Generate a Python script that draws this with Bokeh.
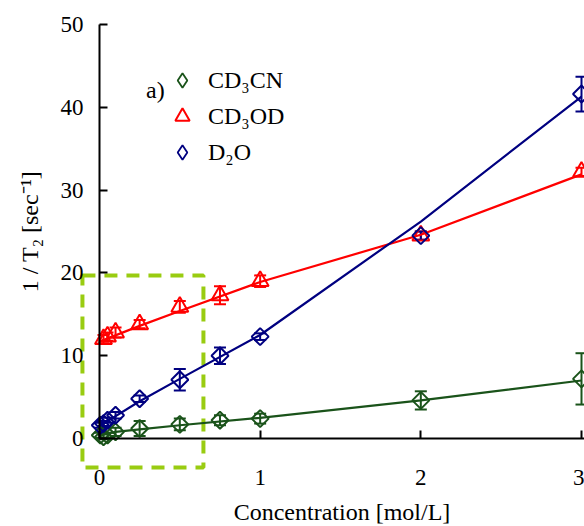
import math
from bokeh.plotting import figure
from bokeh.models import (Range1d, ColumnDataSource, Whisker, TeeHead, Legend,
                          LegendItem, Label, FixedTicker)
from bokeh.embed import file_html
from bokeh.resources import INLINE

# ---------------- data ----------------
cn_x = [0.005, 0.025, 0.05, 0.1, 0.25, 0.5, 0.75, 1, 2, 3]
cn_y = [0.4, 0.2, 0.4, 0.8, 1.2, 1.7, 2.2, 2.4, 4.6, 7.2]
cn_err = [0.3, 0.3, 0.3, 0.5, 0.9, 0.7, 0.6, 0.6, 1.1, 3.1]

od_x = [0.025, 0.05, 0.1, 0.25, 0.5, 0.75, 1, 2, 3]
od_y = [12.0, 12.3, 12.8, 13.8, 15.9, 17.3, 19.0, 24.5, 32.2]
od_err = [0.5, 0.5, 0.6, 0.5, 0.7, 1.1, 0.7, 0.5, 0.5]

d2o_x = [0.005, 0.025, 0.05, 0.1, 0.25, 0.5, 0.75, 1, 2, 3]
d2o_y = [1.6, 1.8, 2.2, 2.8, 4.8, 7.1, 10.0, 12.3, 24.5, 41.6]
d2o_err = [0.3, 0.3, 0.3, 0.4, 0.4, 1.3, 1.0, 0.4, 0.5, 2.1]

# fitted curves
cn_fit_x = [0, 0.05, 0.1, 0.25, 0.5, 1, 2, 3]
cn_fit_y = [0.3, 0.6, 0.8, 1.1, 1.6, 2.5, 4.6, 7.0]
od_fit_x = [0, 0.25, 0.5, 1, 2, 3]
od_fit_y = [11.7, 13.6, 15.4, 18.9, 24.6, 31.9]
d2o_fit_x = [0, 0.25, 0.5, 1, 2, 3]
d2o_fit_y = [1.5, 4.5, 7.2, 12.5, 26.2, 41.3]

# highlighted (zoomed) region
zoom_left, zoom_right, zoom_bottom, zoom_top = -0.106, 0.647, -3.5, 19.7

x_ticks = [0, 1, 2, 3]
y_ticks = [0, 10, 20, 30, 40, 50]

names = ["CD₃CN", "CD₃OD", "D₂O"]
GREEN, RED, BLUE, LIME = "#1a531a", "#ff0000", "#000080", "#99cc11"
FONT = "Liberation Serif"

p = figure(width=584, height=526, output_backend="svg", toolbar_location=None,
           x_range=Range1d(-0.616, 3.0187), y_range=Range1d(-10.63, 52.9),
           min_border_left=0, min_border_right=0, min_border_top=0,
           min_border_bottom=0)
p.outline_line_color = None
p.grid.visible = False
p.background_fill_color = "white"

# axes crossing at the origin
for ax, bnds, ticks in ((p.xaxis[0], (0, 3.0187), x_ticks), (p.yaxis[0], (0, 50), y_ticks)):
    ax.fixed_location = 0
    ax.bounds = bnds
    ax.ticker = FixedTicker(ticks=ticks)
    ax.minor_tick_line_color = None
    ax.major_tick_in = 8
    ax.major_tick_out = 0
    ax.axis_line_width = 2
    ax.major_tick_line_width = 2
    ax.axis_line_color = "black"
    ax.major_tick_line_color = "black"
    ax.major_label_text_font = FONT
    ax.major_label_text_font_size = "23px"
    ax.major_label_text_color = "black"
    ax.axis_label_text_font = FONT
    ax.axis_label_text_font_size = "24px"
    ax.axis_label_text_font_style = "normal"
    ax.axis_label_text_color = "black"

p.xaxis.axis_label = "Concentration [mol/L]"
p.xaxis.major_label_standoff = 32
p.xaxis.axis_label_standoff = 10
p.yaxis.axis_label = "1 / T₂ [sec⁻¹]"
p.yaxis.major_label_standoff = 16
p.yaxis.axis_label_standoff = 15

# dashed highlight box
p.quad(left=[zoom_left], right=[zoom_right], bottom=[zoom_bottom], top=[zoom_top],
       fill_color=None, line_color=LIME, line_width=4, line_dash="13 9")

def series(xs, ys, errs, fx, fy, color, marker, size):
    src = ColumnDataSource(dict(x=xs, y=ys,
                                upper=[a + b for a, b in zip(ys, errs)],
                                lower=[a - b for a, b in zip(ys, errs)]))
    p.line(fx, fy, line_color=color, line_width=2.2)
    w = Whisker(source=src, base="x", upper="upper", lower="lower",
                dimension="height", line_color=color, line_width=2,
                upper_head=TeeHead(size=12, line_color=color, line_width=2),
                lower_head=TeeHead(size=12, line_color=color, line_width=2))
    p.add_layout(w)
    kw = dict(angle=math.pi / 4) if marker == "square" else {}
    r = p.scatter("x", "y", source=src, marker=marker, size=size,
                  fill_color=None, line_color=color, line_width=2, **kw)
    key = r
    if marker == "square":
        # legend cannot rotate the square: an undrawn (NaN) diamond serves as key
        key = p.scatter(x=[math.nan], y=[math.nan], marker="diamond", size=size,
                        fill_color=None, line_color=color, line_width=1.8)
    return key

k_cn = series(cn_x, cn_y, cn_err, cn_fit_x, cn_fit_y, GREEN, "square", 12)
k_od = series(od_x, od_y, od_err, od_fit_x, od_fit_y, RED, "triangle", 17)
k_d2o = series(d2o_x, d2o_y, d2o_err, d2o_fit_x, d2o_fit_y, BLUE, "square", 12)

legend = Legend(items=[LegendItem(label=names[0], renderers=[k_cn]),
                       LegendItem(label=names[1], renderers=[k_od]),
                       LegendItem(label=names[2], renderers=[k_d2o])],
                location=(164, 356), border_line_color=None,
                background_fill_alpha=0, padding=0, margin=0, spacing=0,
                glyph_width=36, glyph_height=36, label_height=36,
                label_standoff=8, label_text_font=FONT,
                label_text_font_size="24px", label_text_color="black")
p.add_layout(legend)

p.add_layout(Label(x=0.29, y=42.1, text="a)", text_font=FONT,
                   text_font_size="24px", text_baseline="middle",
                   text_align="left", text_color="black"))

open("out.html", "w").write(file_html(p, INLINE))
